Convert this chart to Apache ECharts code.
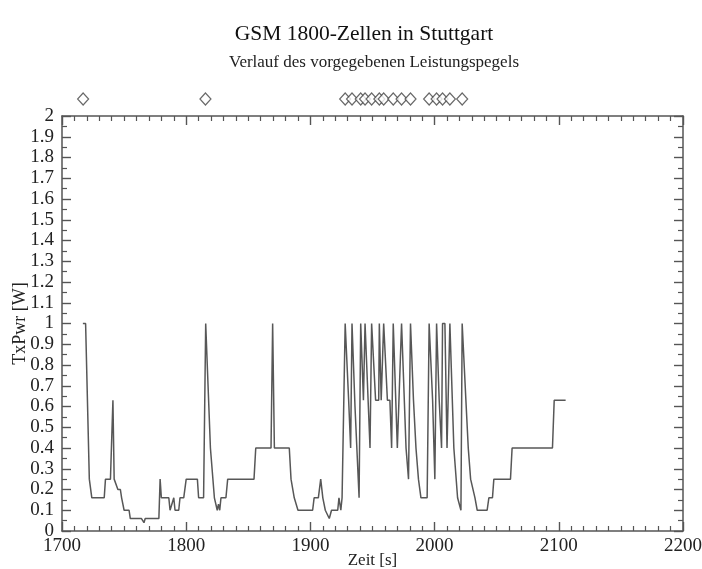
<!DOCTYPE html>
<html>
<head>
<meta charset="utf-8">
<script src="https://cdn.jsdelivr.net/npm/echarts@6/dist/echarts.min.js"></script>
<style>
  html, body { margin: 0; padding: 0; background: #fff; }
  #chart { width: 702px; height: 569px; }
</style>
</head>
<body>
<div id="chart"></div>
<script>
// Transmit power trace of a GSM 1800 mobile (time in s, power in W)
const times = [
  1716.8, 1719, 1722, 1724, 1734, 1735, 1739, 1741, 1742, 1743.5, 1745, 1747, 1748, 1749, 1750, 1754,
  1755, 1764, 1766, 1767, 1778, 1779, 1780, 1786, 1787, 1788, 1790, 1791, 1794, 1795, 1798, 1800,
  1809, 1810, 1814, 1815.7, 1817.3, 1819.5, 1822.7, 1824, 1825, 1826, 1827, 1828, 1832, 1833.4,
  1854.6, 1856, 1868.3, 1869.6, 1871, 1883, 1884.4, 1885.5, 1887, 1888.5, 1890, 1901.8, 1903, 1906.4,
  1908.3, 1910, 1911, 1912, 1913, 1915.2, 1917, 1922, 1923, 1924.5, 1925.5, 1928,
  1929.2, 1930.8, 1931.9, 1932.4, 1933.5, 1934.6, 1935.9, 1939.2, 1940.5, 1941.5, 1942.7, 1944,
  1945.3, 1948, 1949.3, 1950.5, 1952.5, 1955, 1955.5, 1956, 1957, 1958, 1959, 1960, 1962, 1964,
  1965.4, 1966.7, 1967.5, 1970, 1971.3, 1973.4, 1974.5, 1977, 1979, 1980.6, 1981.7, 1983, 1985,
  1987, 1989, 1994, 1995.6, 1996.5, 1998.4, 2000.2, 2001.6, 2002.5, 2003.7, 2005.6, 2006.4, 2008.3,
  2010, 2012.3, 2013.7, 2015.5, 2018.5, 2021.2, 2022.2, 2023.6, 2025.2, 2027.1, 2029, 2032.5, 2034.3,
  2042.3, 2043.7, 2046.6, 2047.7, 2061.1, 2062.4, 2094.9, 2096.3, 2105.5
];
const power = [
  1.0, 1.0, 0.25, 0.16, 0.16, 0.25, 0.25, 0.63, 0.25, 0.25, 0.2, 0.2, 0.16, 0.16, 0.1, 0.1,
  0.06, 0.06, 0.04, 0.06, 0.06, 0.25, 0.16, 0.16, 0.1, 0.1, 0.16, 0.1, 0.1, 0.16, 0.16, 0.25,
  0.25, 0.16, 0.16, 1.0, 1.0, 0.4, 0.16, 0.16, 0.1, 0.13, 0.1, 0.16, 0.16, 0.25,
  0.25, 0.4, 0.4, 1.0, 0.4, 0.4, 0.25, 0.25, 0.16, 0.16, 0.1, 0.1, 0.16, 0.16,
  0.25, 0.16, 0.16, 0.1, 0.1, 0.06, 0.1, 0.1, 0.16, 0.1, 0.16, 1.0,
  1.0, 0.63, 0.63, 0.4, 1.0, 1.0, 0.6, 0.16, 1.0, 1.0, 0.63, 1.0,
  1.0, 0.4, 1.0, 1.0, 0.63, 0.63, 1.0, 1.0, 0.63, 0.63, 1.0, 1.0, 0.63, 0.63,
  0.4, 1.0, 1.0, 0.4, 0.4, 1.0, 1.0, 0.4, 0.25, 1.0, 1.0, 0.63, 0.4,
  0.25, 0.16, 0.16, 1.0, 1.0, 0.63, 0.25, 1.0, 1.0, 0.63, 0.4, 1.0, 1.0,
  0.4, 1.0, 1.0, 0.4, 0.16, 0.1, 1.0, 1.0, 0.63, 0.4, 0.25, 0.16, 0.1,
  0.1, 0.16, 0.16, 0.25, 0.25, 0.4, 0.4, 0.63, 0.63
];
// Instants at which a new power level was commanded
const commandTimes = [
  1717, 1815.5, 1928, 1933.5, 1940.5, 1944, 1949.3, 1955.5, 1959, 1966.7, 1973.4, 1980.6,
  1995.6, 2001.6, 2006.4, 2012.3, 2022.2
];
const xTicks = { min: 1700, max: 2200, step: 100 };
const yTicks = { min: 0, max: 2, step: 0.1 };
const titleText = 'GSM 1800-Zellen in Stuttgart';
const subtitleText = 'Verlauf des vorgegebenen Leistungspegels';

const serif = '"Liberation Serif", "DejaVu Serif", serif';
const axisGray = '#555';
const lineData = times.map((t, i) => [t, power[i]]);
const markData = commandTimes.map(t => [t, 0.5]);

const chart = echarts.init(document.getElementById('chart'), null, { renderer: 'canvas' });

const tickStyle = { show: true, inside: true, length: 9, lineStyle: { color: axisGray, width: 1.4 } };
const minorStyle = { show: true, length: 5, lineStyle: { color: axisGray, width: 1.2 } };
const lineStyleAxis = { show: true, onZero: false, lineStyle: { color: axisGray, width: 1.5 } };

chart.setOption({
  animation: false,
  backgroundColor: '#fff',
  graphic: [
    {
      type: 'text', x: 364, y: 34,
      style: { text: titleText, textAlign: 'center', textVerticalAlign: 'middle',
               font: '21.5px "Liberation Serif", serif', fill: '#111' }
    },
    {
      type: 'text', x: 374, y: 63,
      style: { text: subtitleText, textAlign: 'center', textVerticalAlign: 'middle',
               font: '17px "Liberation Serif", serif', fill: '#222' }
    }
  ],
  grid: [
    { left: 62, right: 19, top: 116, bottom: 38, outerBoundsMode: 'none' },
    { left: 62, right: 19, top: 90, height: 18, outerBoundsMode: 'none' }
  ],
  xAxis: [
    {
      type: 'value', gridIndex: 0, position: 'bottom',
      min: xTicks.min, max: xTicks.max, interval: xTicks.step,
      name: 'Zeit [s]', nameLocation: 'middle', nameGap: 21, nameMoveOverlap: false,
      nameTextStyle: { fontFamily: serif, fontSize: 17, color: '#222' },
      axisLine: lineStyleAxis,
      axisTick: tickStyle,
      minorTick: Object.assign({ splitNumber: 10 }, minorStyle),
      axisLabel: { fontFamily: serif, fontSize: 19, color: '#222', margin: 6, formatter: v => String(v) },
      splitLine: { show: false }
    },
    {
      type: 'value', gridIndex: 0, position: 'top',
      min: xTicks.min, max: xTicks.max, interval: xTicks.step,
      axisLine: lineStyleAxis,
      axisTick: tickStyle,
      minorTick: Object.assign({ splitNumber: 10 }, minorStyle),
      axisLabel: { show: false },
      splitLine: { show: false }
    },
    {
      type: 'value', gridIndex: 1,
      min: xTicks.min, max: xTicks.max,
      show: false
    }
  ],
  yAxis: [
    {
      type: 'value', gridIndex: 0, position: 'left',
      min: yTicks.min, max: yTicks.max, interval: yTicks.step,
      name: 'TxPwr [W]', nameLocation: 'middle', nameGap: 33, nameRotate: 90, nameMoveOverlap: false,
      nameTextStyle: { fontFamily: serif, fontSize: 18, color: '#222' },
      axisLine: lineStyleAxis,
      axisTick: tickStyle,
      minorTick: Object.assign({ splitNumber: 2 }, minorStyle),
      axisLabel: {
        fontFamily: serif, fontSize: 19, color: '#222', margin: 8,
        formatter: v => String(Math.round(v * 10) / 10)
      },
      splitLine: { show: false }
    },
    {
      type: 'value', gridIndex: 0, position: 'right',
      min: yTicks.min, max: yTicks.max, interval: yTicks.step,
      axisLine: lineStyleAxis,
      axisTick: tickStyle,
      minorTick: Object.assign({ splitNumber: 2 }, minorStyle),
      axisLabel: { show: false },
      splitLine: { show: false }
    },
    {
      type: 'value', gridIndex: 1, min: 0, max: 1, show: false
    }
  ],
  series: [
    {
      type: 'line', xAxisIndex: 0, yAxisIndex: 0,
      data: lineData,
      showSymbol: false, symbol: 'none',
      lineStyle: { color: '#575757', width: 1.5 },
      emphasis: { disabled: true }
    },
    {
      type: 'scatter', xAxisIndex: 2, yAxisIndex: 2,
      data: markData,
      symbol: 'diamond', symbolSize: [11, 12],
      itemStyle: { color: '#fff', borderColor: '#444', borderWidth: 1.2 },
      emphasis: { disabled: true }
    }
  ]
});
</script>
</body>
</html>
